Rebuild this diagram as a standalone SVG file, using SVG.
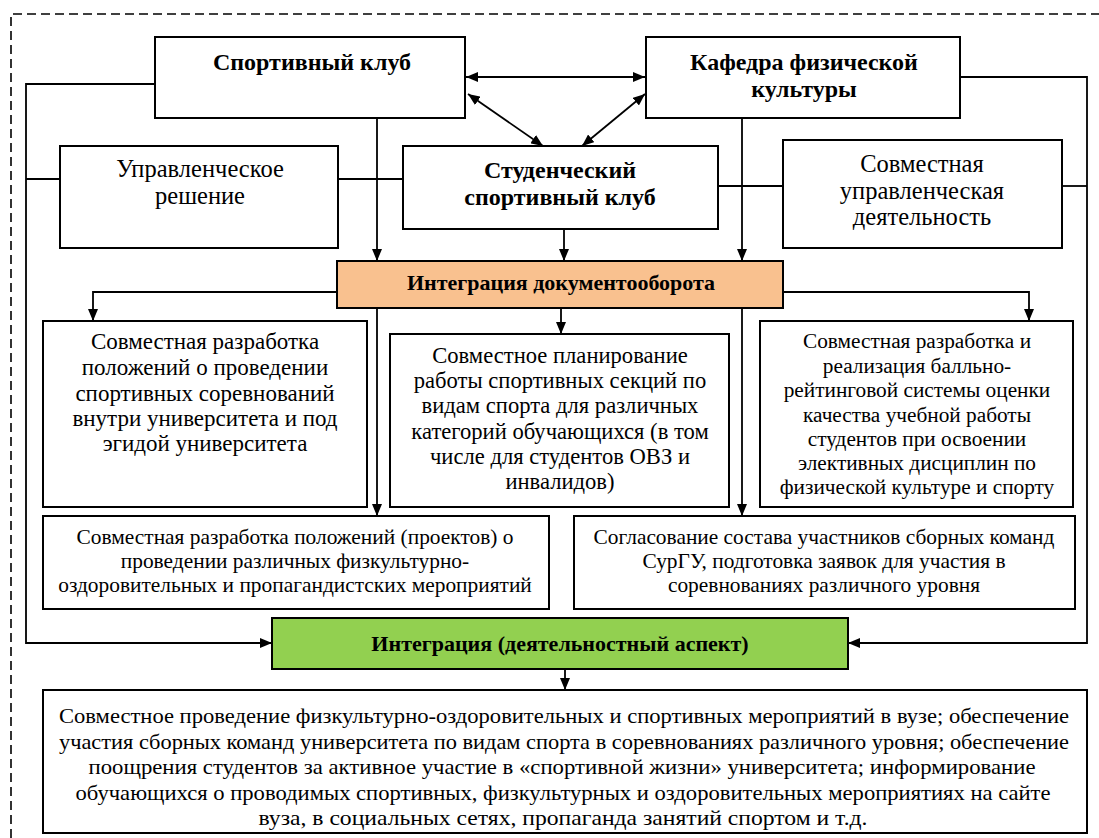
<svg xmlns="http://www.w3.org/2000/svg" width="1099" height="838" viewBox="0 0 1099 838" font-family="'Liberation Serif', 'Times New Roman', serif">
<defs>
<marker id="ah" viewBox="0 0 12 10" refX="12" refY="5" markerWidth="12" markerHeight="10" markerUnits="userSpaceOnUse" orient="auto-start-reverse">
<path d="M0,0 L12,5 L0,10 z" fill="#000"/>
</marker>
</defs>
<style>
.box{fill:#fff;stroke:#000;stroke-width:2}
.ln{fill:none;stroke:#000;stroke-width:1.8}
.arr{fill:none;stroke:#000;stroke-width:1.8;marker-end:url(#ah)}
.dbl{fill:none;stroke:#000;stroke-width:1.8;marker-start:url(#ah);marker-end:url(#ah)}
text{fill:#000;text-anchor:middle}
.b{font-weight:bold;font-size:24px}
.h{font-weight:bold;font-size:22px}
.big{font-size:24.5px}
.r{font-size:23px}
.m{font-size:22.6px}
.s{font-size:21.3px}
.t{font-size:21.4px}
.c{font-size:21px}
</style>
<rect width="1099" height="838" fill="#fff"/>
<path d="M11,838 V14 H1099" fill="none" stroke="#000" stroke-width="1.6" stroke-dasharray="9 5"/>

<g id="connectors">
<path class="arr" d="M155,84 H26 V643 H272"/>
<path class="arr" d="M960,77 H1087 V643 H848"/>
<path class="ln" d="M26,179 H60"/>
<path class="ln" d="M338,179 H403"/>
<path class="ln" d="M718,186 H783"/>
<path class="ln" d="M1062,186 H1087"/>
<path class="dbl" d="M466,77 H645"/>
<path class="dbl" d="M468,94 L543,146"/>
<path class="dbl" d="M645,94 L582,146"/>
<path class="arr" d="M377,118 V261"/>
<path class="arr" d="M564,229 V261"/>
<path class="arr" d="M742,118 V261"/>
<path class="arr" d="M377,308 V516"/>
<path class="arr" d="M742,308 V516"/>
<path class="arr" d="M337,292 H93 V321"/>
<path class="arr" d="M783,292 H1029 V321"/>
<path class="arr" d="M561,308 V334"/>
<path class="arr" d="M565,669 V690"/>
</g>

<g id="sport-club">
<rect class="box" x="155" y="37" width="310" height="81"/>
<text class="b" x="312" y="70">Спортивный клуб</text>
</g>
<g id="kafedra">
<rect class="box" x="646" y="37" width="314" height="81"/>
<text class="b" x="804" y="70">Кафедра физической</text>
<text class="b" x="804" y="97">культуры</text>
</g>
<g id="upravlencheskoe">
<rect class="box" x="60" y="146" width="278" height="102"/>
<text class="big" x="200" y="177">Управленческое</text>
<text class="big" x="200" y="204">решение</text>
</g>
<g id="student-club">
<rect class="box" x="403" y="146" width="315" height="83"/>
<text class="b" x="560" y="178">Студенческий</text>
<text class="b" x="560" y="205">спортивный клуб</text>
</g>
<g id="sovmestnaya">
<rect class="box" x="783" y="140" width="279" height="108"/>
<text class="big" x="922" y="172">Совместная</text>
<text class="big" x="922" y="198.5">управленческая</text>
<text class="big" x="922" y="225">деятельность</text>
</g>
<g id="doc-integration">
<rect x="337" y="261" width="446" height="47" fill="#F9C18F" stroke="#000" stroke-width="2"/>
<text class="h" x="561" y="290">Интеграция документооборота</text>
</g>
<g id="box-left">
<rect class="box" x="43" y="321" width="324" height="186"/>
<text class="r" x="205" y="349">Совместная разработка</text>
<text class="r" x="205" y="375">положений о проведении</text>
<text class="r" x="205" y="401">спортивных соревнований</text>
<text class="r" x="205" y="426">внутри университета и под</text>
<text class="r" x="205" y="451">эгидой университета</text>
</g>
<g id="box-middle">
<rect class="box" x="390" y="334" width="339" height="173"/>
<text class="m" x="560" y="363">Совместное планирование</text>
<text class="m" x="560" y="388">работы спортивных секций по</text>
<text class="m" x="560" y="413">видам спорта для различных</text>
<text class="m" x="560" y="439">категорий обучающихся (в том</text>
<text class="m" x="560" y="464">числе для студентов ОВЗ и</text>
<text class="m" x="560" y="489">инвалидов)</text>
</g>
<g id="box-right">
<rect class="box" x="760" y="321" width="313" height="186"/>
<text class="s" x="917" y="348">Совместная разработка и</text>
<text class="s" x="917" y="373">реализация балльно-</text>
<text class="s" x="917" y="397">рейтинговой системы оценки</text>
<text class="s" x="917" y="422">качества учебной работы</text>
<text class="s" x="917" y="446">студентов при освоении</text>
<text class="s" x="917" y="470">элективных дисциплин по</text>
<text class="s" x="917" y="494">физической культуре и спорту</text>
</g>
<g id="box-projects">
<rect class="box" x="43" y="516" width="506" height="93"/>
<text class="t" x="295" y="544">Совместная разработка положений (проектов) о</text>
<text class="t" x="295" y="568">проведении различных физкультурно-</text>
<text class="t" x="295" y="592">оздоровительных и пропагандистских мероприятий</text>
</g>
<g id="box-teams">
<rect class="box" x="574" y="516" width="501" height="93"/>
<text class="t" x="824" y="544">Согласование состава участников сборных команд</text>
<text class="t" x="824" y="568">СурГУ, подготовка заявок для участия в</text>
<text class="t" x="824" y="592">соревнованиях различного уровня</text>
</g>
<g id="activity-integration">
<rect x="272" y="618" width="576" height="51" fill="#92D050" stroke="#000" stroke-width="2"/>
<text class="h" x="560" y="651">Интеграция (деятельностный аспект)</text>
</g>
<g id="box-bottom">
<rect class="box" x="43" y="690" width="1044" height="143"/>
<text class="c" x="564" y="723" textLength="1010" lengthAdjust="spacingAndGlyphs">Совместное проведение физкультурно-оздоровительных и спортивных мероприятий в вузе; обеспечение</text>
<text class="c" x="564" y="748.5" textLength="1010" lengthAdjust="spacingAndGlyphs">участия сборных команд университета по видам спорта в соревнованиях различного уровня; обеспечение</text>
<text class="c" x="562" y="774" textLength="947" lengthAdjust="spacingAndGlyphs">поощрения студентов за активное участие в «спортивной жизни» университета; информирование</text>
<text class="c" x="563" y="799.5" textLength="975" lengthAdjust="spacingAndGlyphs">обучающихся о проводимых спортивных, физкультурных и оздоровительных мероприятиях на сайте</text>
<text class="c" x="563" y="825" textLength="609" lengthAdjust="spacingAndGlyphs">вуза, в социальных сетях, пропаганда занятий спортом и т.д.</text>
</g>
</svg>
